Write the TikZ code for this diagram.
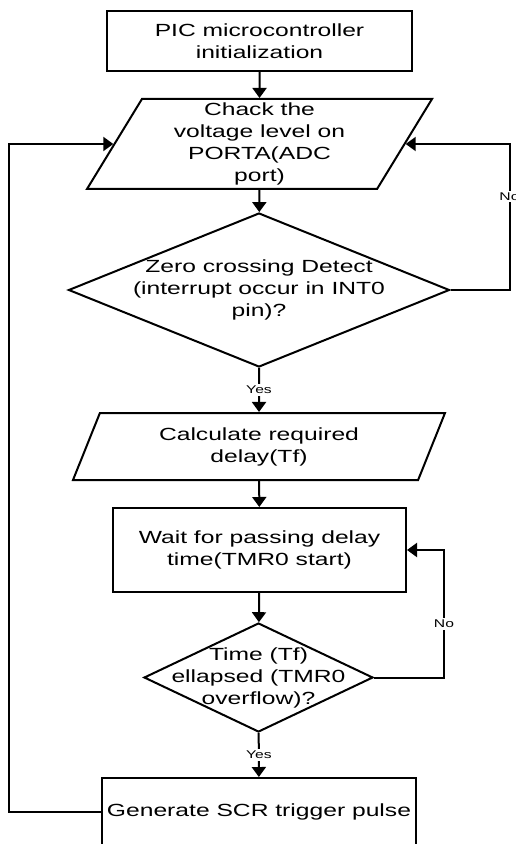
\documentclass[tikz,border=0pt]{standalone}
\usepackage{fontspec}
\setmainfont[FakeStretch=1.4]{Liberation Sans}
\usepackage{tikz}
\usetikzlibrary{arrows.meta,shapes.geometric}

\begin{document}
\begin{tikzpicture}[x=0.5pt,y=-0.5pt,font=\fontsize{8.8}{11}\selectfont,
  box/.style={draw,line width=1pt,align=center,inner sep=0pt},
  io/.style={draw,line width=1pt,align=center,inner sep=0pt,trapezium,trapezium stretches body},
  test/.style={draw,line width=1pt,align=center,diamond},
  flow/.style={-{Triangle[length=5pt,width=7pt]},line width=1pt},
  tag/.style={fill=white,inner sep=1pt,font=\fontsize{5.6}{6}\selectfont}]
\useasboundingbox (0,0) rectangle (515,844);
\node[box,minimum width=152.5pt,minimum height=30pt] (init) at (259.5,41) {PIC microcontroller\\initialization};
\node[io,trapezium left angle=56.3,trapezium right angle=123.7,minimum width=172.5pt,minimum height=45pt] (read) at (259.5,144) {Chack the\\voltage level on\\PORTA(ADC\\port)};
\node[test,inner sep=-6pt,aspect=2.5,minimum width=190.5pt,minimum height=77pt] (zcd) at (259,290) {Zero crossing Detect\\(interrupt occur in INT0\\pin)?};
\node[io,trapezium left angle=55,trapezium right angle=125,minimum width=186pt,minimum height=33.5pt] (calc) at (259,446.5) {Calculate required\\delay(Tf)};
\node[box,minimum width=146.5pt,minimum height=42pt] (wait) at (259.5,550) {Wait for passing delay\\time(TMR0 start)};
\node[test,inner sep=-10pt,aspect=2.1,minimum width=114.5pt,minimum height=54.5pt] (tover) at (258.5,677.5) {Time (Tf)\\ellapsed (TMR0\\overflow)?};
\node[box,minimum width=157pt,minimum height=34pt] (pulse) at (259,812) {Generate SCR trigger pulse};
\draw[flow] (init) -- (read);
\draw[flow] (read) -- (zcd);
\draw[flow] (zcd) -- node[tag]{Yes} (calc);
\draw[flow] (calc) -- (wait);
\draw[flow] (wait) -- (tover);
\draw[flow] (tover) -- node[tag]{Yes} (pulse);
\draw[flow] (zcd.east) -- ++(59,0) |- node[tag,pos=0.32]{No} (read.east);
\draw[flow] (tover.east) -- ++(70,0) |- node[tag,pos=0.21]{No} (wait.east);
\draw[flow] (pulse.west) -- ++(-92,0) |- (read.west);
\end{tikzpicture}
\end{document}
